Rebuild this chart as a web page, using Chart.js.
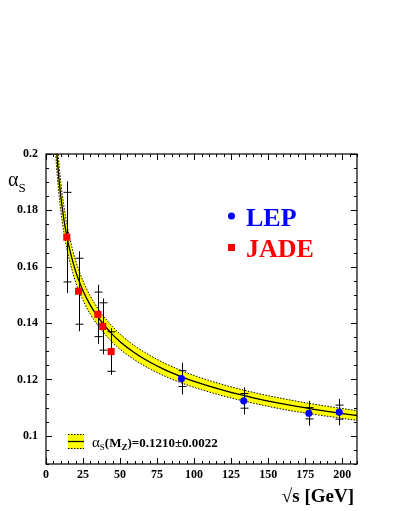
<!DOCTYPE html>
<html>
<head>
<meta charset="utf-8">
<script src="https://cdn.jsdelivr.net/npm/chart.js@4.4.1/dist/chart.umd.min.js"></script>
<style>
  html, body { margin: 0; padding: 0; background: #fff; }
  #wrap { width: 395px; height: 511px; }
</style>
</head>
<body>
<div id="wrap"><canvas id="alphaChart" width="395" height="511"></canvas></div>
<script>
// LEP measurements
var lepX = [91.5, 133.5, 177.5, 198];
var lepY = [0.1203, 0.1124, 0.1080, 0.1084];
var lepStat = [0.0028, 0.0026, 0.0020, 0.0025];
var lepTot = [0.0056, 0.0048, 0.0044, 0.0047];

// JADE measurements
var jadeX = [14, 22, 35, 38.3, 44];
var jadeY = [0.1705, 0.1513, 0.1431, 0.1388, 0.1299];
var jadeStat = [0.0159, 0.0117, 0.0079, 0.0084, 0.0070];
var jadeTot = [0.0198, 0.0142, 0.0105, 0.0099, 0.0083];

// running alpha_s curve and its band
var curveX   = [6, 7, 8, 9, 10, 12, 14, 16, 18, 20, 22, 25, 30, 35, 40, 45, 50, 60, 70, 80, 91.2, 100, 120, 140, 160, 180, 200, 210];
var curveMid = [0.2112, 0.2026, 0.1956, 0.1897, 0.1849, 0.1771, 0.1710, 0.1661, 0.1620, 0.1584, 0.1554, 0.1515, 0.1463, 0.1422, 0.1388, 0.1359, 0.1334, 0.1294, 0.1262, 0.1235, 0.1210, 0.1193, 0.1161, 0.1135, 0.1113, 0.1095, 0.1079, 0.1072];
var curveUp  = [0.2179, 0.2088, 0.2014, 0.1951, 0.1900, 0.1818, 0.1754, 0.1703, 0.1659, 0.1622, 0.1590, 0.1550, 0.1495, 0.1452, 0.1417, 0.1387, 0.1361, 0.1319, 0.1286, 0.1258, 0.1232, 0.1214, 0.1181, 0.1154, 0.1132, 0.1113, 0.1097, 0.1089];
var curveLow = [0.2045, 0.1964, 0.1899, 0.1843, 0.1798, 0.1724, 0.1666, 0.1620, 0.1581, 0.1546, 0.1518, 0.1481, 0.1431, 0.1392, 0.1359, 0.1331, 0.1307, 0.1269, 0.1238, 0.1212, 0.1188, 0.1172, 0.1141, 0.1116, 0.1094, 0.1077, 0.1062, 0.1055];

// axis ticks
var xTicks = [0, 25, 50, 75, 100, 125, 150, 175, 200];
var xTickLabels = ['0', '25', '50', '75', '100', '125', '150', '175', '200'];
var yTicks = [0.1, 0.12, 0.14, 0.16, 0.18, 0.2];
var yTickLabels = ['0.1', '0.12', '0.14', '0.16', '0.18', '0.2'];

var SERIF = '"Liberation Serif", "DejaVu Serif", serif';

function pts(xs, ys) {
  return xs.map(function(x, i) { return { x: x, y: ys[i] }; });
}

function drawRich(ctx, parts, x, y) {
  parts.forEach(function(p) {
    ctx.font = p.font;
    ctx.fillText(p.text, x, y + (p.dy || 0));
    x += ctx.measureText(p.text).width;
  });
  return x;
}

var errorBars = {
  id: 'errorBars',
  beforeDatasetDraw: function(chart, args) {
    if (args.index !== 1) return;
    var ctx = chart.ctx, xs = chart.scales.x, ys = chart.scales.y;
    ctx.save();
    ctx.strokeStyle = '#000';
    ctx.lineWidth = 1;
    [[lepX, lepY, lepStat, lepTot], [jadeX, jadeY, jadeStat, jadeTot]].forEach(function(s) {
      for (var i = 0; i < s[0].length; i++) {
        var px = Math.round(xs.getPixelForValue(s[0][i])) + 0.5;
        var top = ys.getPixelForValue(s[1][i] + s[3][i]);
        var bot = ys.getPixelForValue(s[1][i] - s[3][i]);
        var t1 = ys.getPixelForValue(s[1][i] + s[2][i]);
        var t2 = ys.getPixelForValue(s[1][i] - s[2][i]);
        ctx.beginPath();
        ctx.moveTo(px, top); ctx.lineTo(px, bot);
        ctx.moveTo(px - 4, t1); ctx.lineTo(px + 4, t1);
        ctx.moveTo(px - 4, t2); ctx.lineTo(px + 4, t2);
        ctx.stroke();
      }
    });
    ctx.restore();
  }
};

var frameAndText = {
  id: 'frameAndText',
  afterDraw: function(chart) {
    var ctx = chart.ctx, a = chart.chartArea, xs = chart.scales.x, ys = chart.scales.y;
    ctx.save();
    ctx.strokeStyle = '#000';
    ctx.lineWidth = 1.2;
    ctx.strokeRect(a.left, a.top, a.right - a.left, a.bottom - a.top);
    ctx.lineWidth = 1;
    ctx.beginPath();
    var v, p, len;
    for (v = 0; v <= 210; v += 5) {
      p = Math.round(xs.getPixelForValue(v)) + 0.5;
      len = (v % 25 === 0) ? 6 : 3;
      ctx.moveTo(p, a.bottom); ctx.lineTo(p, a.bottom - len);
      ctx.moveTo(p, a.top); ctx.lineTo(p, a.top + len);
    }
    for (var k = 18; k <= 40; k++) {
      v = k * 0.005;
      p = Math.round(ys.getPixelForValue(v)) + 0.5;
      len = (k % 4 === 0) ? 6 : 3;
      ctx.moveTo(a.left, p); ctx.lineTo(a.left + len, p);
      ctx.moveTo(a.right, p); ctx.lineTo(a.right - len, p);
    }
    ctx.stroke();

    // axis titles
    ctx.fillStyle = '#000';
    ctx.textBaseline = 'alphabetic';
    ctx.textAlign = 'left';
    drawRich(ctx, [
      { text: 'α', font: '20px ' + SERIF },
      { text: 'S', font: '13px ' + SERIF, dy: 6 }
    ], 8, 186);
    ctx.textAlign = 'right';
    ctx.font = 'bold 19px ' + SERIF;
    ctx.fillText('√s [GeV]', 354, 502);
    ctx.textAlign = 'left';

    // LEP / JADE legend
    ctx.fillStyle = '#0000ff';
    ctx.beginPath();
    ctx.arc(231.5, 216, 3.5, 0, Math.PI * 2);
    ctx.fill();
    ctx.font = 'bold 26px ' + SERIF;
    ctx.fillText('LEP', 246, 226);
    ctx.fillStyle = '#ff0000';
    ctx.fillRect(228, 244, 7, 7);
    ctx.fillText('JADE', 246, 257);

    // band legend
    ctx.fillStyle = '#ffff00';
    ctx.fillRect(68, 434, 16, 15);
    ctx.strokeStyle = '#000';
    ctx.lineWidth = 1;
    ctx.setLineDash([1.5, 1.5]);
    ctx.beginPath();
    ctx.moveTo(68, 434.5); ctx.lineTo(84, 434.5);
    ctx.moveTo(68, 448.5); ctx.lineTo(84, 448.5);
    ctx.stroke();
    ctx.setLineDash([]);
    ctx.lineWidth = 1.3;
    ctx.beginPath();
    ctx.moveTo(68, 441.5); ctx.lineTo(84, 441.5);
    ctx.stroke();
    ctx.fillStyle = '#000';
    drawRich(ctx, [
      { text: 'α', font: '15px ' + SERIF },
      { text: 'S', font: '9px ' + SERIF, dy: 3 },
      { text: '(M', font: 'bold 13px ' + SERIF },
      { text: 'Z', font: 'bold 9px ' + SERIF, dy: 3 },
      { text: ')=0.1210±0.0022', font: 'bold 13px ' + SERIF }
    ], 92, 446.5);
    ctx.restore();
  }
};

new Chart(document.getElementById('alphaChart'), {
  type: 'scatter',
  data: {
    datasets: [
      {
        label: 'LEP',
        data: pts(lepX, lepY),
        pointStyle: 'circle',
        pointRadius: 3.6,
        backgroundColor: '#0000ff',
        borderWidth: 0
      },
      {
        label: 'JADE',
        data: pts(jadeX, jadeY),
        pointStyle: 'rect',
        pointRadius: 5,
        backgroundColor: '#ff0000',
        borderWidth: 0
      },
      {
        label: 'fit',
        data: pts(curveX, curveMid),
        showLine: true,
        pointRadius: 0,
        borderColor: '#000',
        borderWidth: 1.3,
        cubicInterpolationMode: 'monotone',
        clip: 0
      },
      {
        label: 'band low',
        data: pts(curveX, curveLow),
        showLine: true,
        pointRadius: 0,
        borderColor: '#000',
        borderWidth: 1,
        borderDash: [1.5, 1.5],
        cubicInterpolationMode: 'monotone',
        clip: 0
      },
      {
        label: 'band up',
        data: pts(curveX, curveUp),
        showLine: true,
        pointRadius: 0,
        borderColor: '#000',
        borderWidth: 1,
        borderDash: [1.5, 1.5],
        backgroundColor: '#ffff00',
        fill: '-1',
        cubicInterpolationMode: 'monotone',
        clip: 0
      }
    ]
  },
  options: {
    responsive: false,
    animation: false,
    events: [],
    layout: { padding: { left: 0, top: 154, right: 38, bottom: 27 } },
    plugins: {
      legend: { display: false },
      tooltip: { enabled: false }
    },
    scales: {
      x: {
        type: 'linear',
        min: 0,
        max: 210,
        grid: { display: false, drawTicks: false },
        border: { display: false },
        afterBuildTicks: function(s) { s.ticks = xTicks.map(function(v) { return { value: v }; }); },
        afterFit: function(s) { s.height = 20; },
        ticks: {
          padding: 4,
          color: '#000',
          maxRotation: 0,
          font: { family: SERIF, size: 12, weight: 'bold' },
          callback: function(v) { return xTickLabels[xTicks.indexOf(v)]; }
        }
      },
      y: {
        min: 0.09,
        max: 0.2,
        grid: { display: false, drawTicks: false },
        border: { display: false },
        afterBuildTicks: function(s) { s.ticks = yTicks.map(function(v) { return { value: v }; }); },
        afterFit: function(s) { s.width = 46; },
        ticks: {
          padding: 8,
          color: '#000',
          font: { family: SERIF, size: 12, weight: 'bold' },
          callback: function(v) { return yTickLabels[yTicks.indexOf(v)]; }
        }
      }
    }
  },
  plugins: [errorBars, frameAndText]
});
</script>
</body>
</html>
